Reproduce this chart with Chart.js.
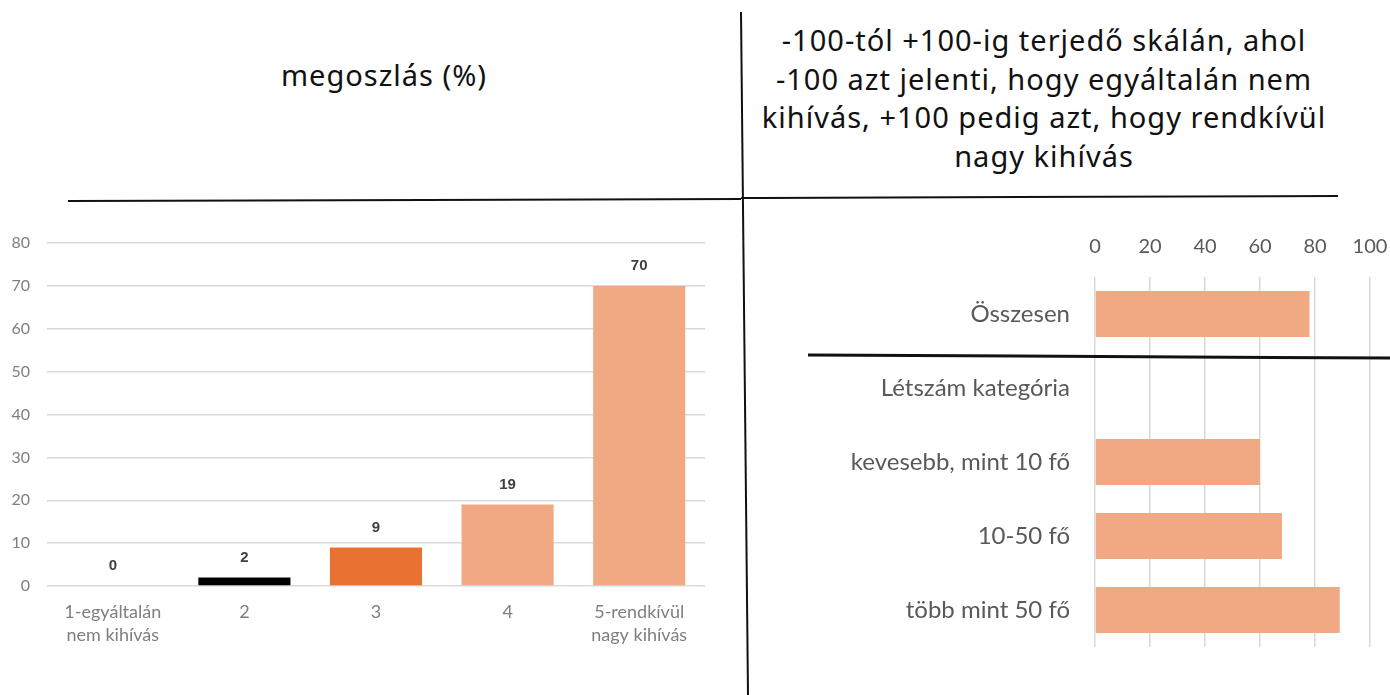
<!DOCTYPE html>
<html>
<head>
<meta charset="UTF-8" />
<title>Kihívás megoszlás</title>
<style>
    body { margin: 0; background: #fff; width: 1390px; height: 695px; overflow: hidden; position: relative; }
    .title { position: absolute; text-align: center; color: #111; font-family: "Noto Sans", sans-serif; font-size: 29px; letter-spacing: 1px; line-height: 38.5px; }
    canvas { position: absolute; }
    svg { position: absolute; left: 0; top: 0; pointer-events: none; }
</style>
</head>
<body>
<div class="title" style="left:134px; top:56px; width:500px;">megoszlás (%)</div>
<div class="title" style="left:714px; top:21px; width:660px;">-100-tól +100-ig terjedő skálán, ahol<br>-100 azt jelenti, hogy egyáltalán nem<br>kihívás, +100 pedig azt, hogy rendkívül<br>nagy kihívás</div>

<canvas id="distChart" width="720" height="431" style="left:0; top:225px;"></canvas>
<canvas id="scoreChart" width="630" height="417" style="left:760px; top:230px;"></canvas>

<svg width="1390" height="695">
    <line x1="741" y1="12" x2="748" y2="695" stroke="#111" stroke-width="2" />
    <line x1="68" y1="201" x2="741" y2="199" stroke="#111" stroke-width="2" />
    <line x1="741" y1="198" x2="1338" y2="196" stroke="#111" stroke-width="2" />
    <line x1="808" y1="355" x2="1390" y2="358" stroke="#111" stroke-width="3" />
</svg>

<script src="https://cdn.jsdelivr.net/npm/chart.js@4/dist/chart.umd.min.js"></script>
<script>
    // left chart: distribution (%)
    const distLabels = [['1-egyáltalán', 'nem kihívás'], '2', '3', '4', ['5-rendkívül', 'nagy kihívás']];
    const distValues = [0, 2, 9, 19, 70];
    const distColors = ['#F1A983', '#000000', '#E97132', '#F1A983', '#F1A983'];

    // right chart: score on -100..+100 scale
    const groupLabels = ['Összesen', 'Létszám kategória', 'kevesebb, mint 10 fő', '10-50 fő', 'több mint 50 fő'];
    const groupValues = [78, null, 60, 68, 89];

    // value labels above the bars of the left chart
    const valueLabels = {
        id: 'valueLabels',
        afterDatasetsDraw(chart) {
            const ctx = chart.ctx;
            const meta = chart.getDatasetMeta(0);
            ctx.save();
            ctx.font = 'bold 15px "Liberation Sans", Arial, sans-serif';
            ctx.fillStyle = '#404040';
            ctx.textAlign = 'center';
            ctx.textBaseline = 'middle';
            meta.data.forEach(function (bar, i) {
                ctx.fillText(distValues[i], bar.x, bar.y - 20);
            });
            ctx.restore();
        }
    };

    // keep the plot area where the layout says, no extra label padding
    function noPad(s) {
        s.paddingTop = 0; s.paddingBottom = 0;
        s.paddingLeft = 0; s.paddingRight = 0;
    }

    new Chart(document.getElementById('distChart').getContext('2d'), {
        type: 'bar',
        data: {
            labels: distLabels,
            datasets: [{
                data: distValues,
                backgroundColor: distColors,
                categoryPercentage: 1,
                barPercentage: 0.7
            }]
        },
        options: {
            responsive: false,
            animation: false,
            layout: { padding: { top: 18, right: 15 } },
            plugins: { legend: { display: false }, tooltip: { enabled: false } },
            scales: {
                x: {
                    grid: { display: false },
                    border: { display: false },
                    ticks: { color: '#7f7f7f', font: { family: 'Lato', size: 18, lineHeight: 1.3 }, padding: 6, maxRotation: 0, autoSkip: false },
                    afterFit: function (s) { s.height = 70; noPad(s); }
                },
                y: {
                    min: 0, max: 80,
                    grid: { color: '#d9d9d9', lineWidth: 1.5, drawTicks: false },
                    border: { display: false },
                    ticks: { stepSize: 10, color: '#7f7f7f', font: { family: 'Lato', size: 16 }, padding: 17 },
                    afterFit: function (s) { s.width = 47; noPad(s); }
                }
            }
        },
        plugins: [valueLabels]
    });

    new Chart(document.getElementById('scoreChart').getContext('2d'), {
        type: 'bar',
        data: {
            labels: groupLabels,
            datasets: [{
                data: groupValues,
                backgroundColor: '#F1A983',
                categoryPercentage: 1,
                barPercentage: 0.62
            }]
        },
        options: {
            indexAxis: 'y',
            responsive: false,
            animation: false,
            layout: { padding: { right: 20 } },
            plugins: { legend: { display: false }, tooltip: { enabled: false } },
            scales: {
                x: {
                    position: 'top',
                    min: 0, max: 100,
                    grid: { color: '#d9d9d9', lineWidth: 1.5, drawTicks: false },
                    border: { display: false },
                    ticks: { stepSize: 20, color: '#595959', font: { family: 'Lato', size: 20 }, padding: 18 },
                    afterFit: function (s) { s.height = 47; noPad(s); }
                },
                y: {
                    grid: { display: false },
                    border: { display: false },
                    ticks: { color: '#595959', font: { family: 'Lato', size: 24 }, padding: 17 },
                    afterFit: function (s) { s.width = 335; noPad(s); }
                }
            }
        }
    });
</script>
</body>
</html>
